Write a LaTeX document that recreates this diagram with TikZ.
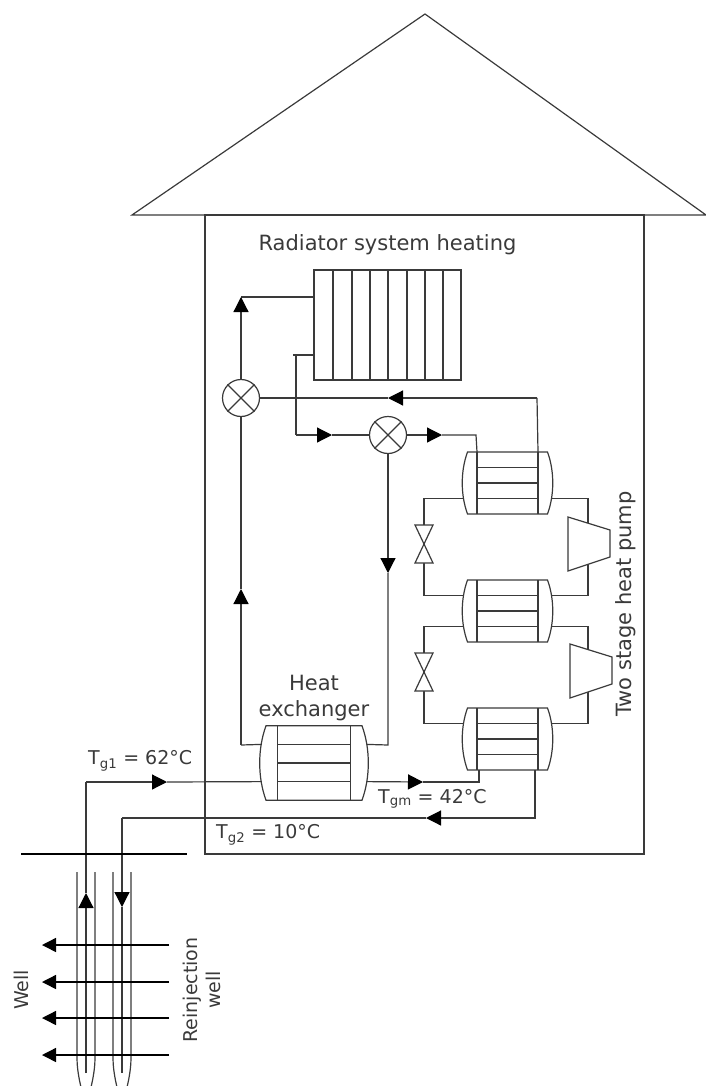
\documentclass[tikz,border=0pt]{standalone}
\usepackage{fontspec}
\setmainfont{DejaVu Sans}
\usepackage{tikz}
\usetikzlibrary{positioning}
\usetikzlibrary{arrows.meta}

\definecolor{ink}{HTML}{3A3A3A}
\tikzset{
    pipe/.style={draw=ink, line width=1.2pt},
    flow/.style={pipe, -{Triangle[length=15pt,width=15pt,color=black]}},
    wellflow/.style={draw=black, line width=1.4pt, -{Triangle[length=14pt,width=14pt,color=black]}},
    label/.style={text=ink, font=\fontsize{21}{26}\selectfont, inner sep=0pt, align=center},
    smalllabel/.style={label, font=\fontsize{19}{23}\selectfont},
    mixer/.style={circle, pipe, fill=white, minimum size=37pt, inner sep=0pt},
}

% heat exchanger: name, centre x, centre y, scale
\newcommand{\hxunit}[4]{
    \begin{scope}[shift={(#2,#3)}, scale=#4]
        \coordinate (#1-n) at (0,-31);
        \coordinate (#1-tl) at (-30.5,-31);
        \coordinate (#1-tr) at (30.5,-31);
        \coordinate (#1-bl) at (-30.5,31);
        \coordinate (#1-br) at (30.5,31);
        \coordinate (#1-w1) at (-44,-15.5);
        \coordinate (#1-w3) at (-44,15.5);
        \coordinate (#1-e1) at (44,-15.5);
        \coordinate (#1-e3) at (44,15.5);
        \draw[pipe] (-40,-31) -- (40,-31)
            .. controls (47,-12) and (47,12) .. (40,31) -- (-40,31)
            .. controls (-47,12) and (-47,-12) .. (-40,-31) -- cycle;
        \draw[pipe] (#1-tl) -- (#1-bl);
        \draw[pipe] (#1-tr) -- (#1-br);
        \draw[pipe] (-30.5,-15.5) -- (30.5,-15.5);
        \draw[pipe] (-30.5,0) -- (30.5,0);
        \draw[pipe] (-30.5,15.5) -- (30.5,15.5);
    \end{scope}
}
% expansion valve: centre x, centre y
\newcommand{\xvalve}[2]{
    \draw[pipe, fill=white] (#1-9,#2-19) -- (#1+9,#2-19) -- (#1-9,#2+19) -- (#1+9,#2+19) -- cycle;
}
% compressor: centre x, centre y
\newcommand{\compressor}[2]{
    \draw[pipe, fill=white] (#1-21,#2-27) -- (#1+21,#2-14) -- (#1+21,#2+13) -- (#1-21,#2+27) -- cycle;
}

\begin{document}
\begin{tikzpicture}[x=1pt, y=-1pt]
    \clip (0,0) rectangle (706,1086);

    % house
    \coordinate (rl) at (132,215);
    \coordinate (rt) at (425,14);
    \coordinate (rr) at (706,215);
    \coordinate (wl) at (205,215);
    \coordinate (wr) at (644,854);
    \draw[pipe] (rl) -- (rt) -- (rr) -- cycle;
    \draw[pipe] (wl) rectangle (wr);

    % radiator
    \node(rad) [pipe, minimum width=147pt, minimum height=110pt, inner sep=0pt] at (387.5,325) {};
    \foreach \x in {333,352,370,388,407,425,443}
        \draw[pipe] (\x,270) -- (\x,380);
    \node(radtitle) [label, above=14pt of rad] {Radiator system heating};

    % valves
    \node(mxa) [mixer] at (241,398) {};
    \node(mxb) [mixer] at (388,435) {};
    \foreach \m in {mxa,mxb} {
        \draw[pipe] (\m.45) -- (\m.225);
        \draw[pipe] (\m.135) -- (\m.315);
    }

    % exchangers
    \hxunit{ha}{507.5}{483}{1}
    \hxunit{hb}{507.5}{611}{1}
    \hxunit{hc}{507.5}{739}{1}
    \hxunit{he}{314}{763}{1.2}

    % pipes
    \coordinate (radout) at (314,297);
    \coordinate (riser) at (241,297);
    \coordinate (radin) at (314,355);
    \coordinate (stub) at (293,355);
    \coordinate (retn) at (296,355);
    \coordinate (corner) at (296,435);
    \coordinate (tipa) at (332,435);
    \coordinate (tipb) at (442,435);
    \coordinate (tipc) at (388,398);
    \coordinate (tipd) at (241,589);
    \coordinate (tipe) at (388,573);
    \coordinate (hea) at (241,745);
    \coordinate (heb) at (388,745);
    \coordinate (tob) at (476,435);
    \coordinate (fromb) at (537,398);

    \draw[pipe] (radout) -- (riser);
    \draw[flow] (mxa.north) -- (riser);
    \draw[flow] (hea) -- (tipd);
    \draw[pipe] (tipd) -- (mxa.south);
    \draw[pipe] (hea) -- (he-w1);
    \draw[pipe] (radin) -- (stub);
    \draw[pipe] (retn) -- (corner);
    \draw[flow] (corner) -- (tipa);
    \draw[pipe] (tipa) -- (mxb.west);
    \draw[flow] (mxb.east) -- (tipb);
    \draw[pipe] (tipb) -- (tob) -- (ha-tl);
    \draw[pipe] (ha-tr) -- (fromb);
    \draw[flow] (fromb) -- (tipc);
    \draw[pipe] (tipc) -- (mxa.east);
    \draw[flow] (mxb.south) -- (tipe);
    \draw[pipe] (tipe) -- (heb) -- (he-e1);

    % two stage heat pump circuit
    \coordinate (vaa) at (424,544);
    \coordinate (vab) at (424,672);
    \coordinate (cpa) at (588,544);
    \coordinate (cpb) at (588,671);
    \draw[pipe] (ha-w3) -| (vaa) |- (hb-w1);
    \draw[pipe] (hb-w3) -| (vab) |- (hc-w1);
    \draw[pipe] (ha-e3) -| (cpa) |- (hb-e1);
    \draw[pipe] (hb-e3) -| (cpb) |- (hc-e1);
    \xvalve{424}{544}
    \xvalve{424}{672}
    \compressor{589}{544}
    \compressor{591}{671}

    % geothermal loop
    \coordinate (ga) at (86,1073);
    \coordinate (gm) at (86,893);
    \coordinate (gb) at (86,782);
    \coordinate (gc) at (167,782);
    \coordinate (gd) at (423,782);
    \coordinate (ge) at (479,782);
    \coordinate (gf) at (479,770);
    \coordinate (gg) at (535,770);
    \coordinate (gh) at (535,818);
    \coordinate (gi) at (426,818);
    \coordinate (gj) at (122,818);
    \coordinate (gk) at (122,907);
    \coordinate (gl) at (122,1073);
    \draw[flow] (ga) -- (gm);
    \draw[pipe] (gm) -- (gb);
    \draw[flow] (gb) -- (gc);
    \draw[pipe] (gc) -- (he-w3);
    \draw[flow] (he-e3) -- (gd);
    \draw[pipe] (gd) -- (ge) -- (gf);
    \draw[flow] (gg) -- (gh) -- (gi);
    \draw[pipe] (gi) -- (gj);
    \draw[flow] (gj) -- (gk);
    \draw[pipe] (gk) -- (gl);

    % wells
    \coordinate (gnda) at (21,854);
    \coordinate (gndb) at (187,854);
    \draw[draw=black, line width=1.4pt] (gnda) -- (gndb);
    \foreach \x in {77,113} {
        \draw[pipe] (\x,872) -- (\x,1058) .. controls (\x,1072) and (\x+4,1090) .. (\x+9,1104);
        \draw[pipe] (\x+18,872) -- (\x+18,1058) .. controls (\x+18,1072) and (\x+14,1090) .. (\x+9,1104);
    }
    \foreach \y in {945,982,1018,1055} {
        \draw[wellflow] (169,\y) -- (42,\y);
    }

    % labels
    \node(hxtitle) [label, above=5pt of he-n] {Heat\\exchanger};
    \node(tga) [smalllabel, anchor=west] at (88,761) {T\textsubscript{g1} = 62°C};
    \node(tgm) [smalllabel, anchor=west] at (378,799) {T\textsubscript{gm} = 42°C};
    \node(tgb) [smalllabel, anchor=west] at (216,835) {T\textsubscript{g2} = 10°C};
    \node(hplabel) [label, rotate=90] at (626,604) {Two stage heat pump};
    \node(welllabel) [smalllabel, rotate=90] at (21,990) {Well};
    \node(rewell) [smalllabel, rotate=90] at (202,990) {Reinjection\\well};
\end{tikzpicture}
\end{document}
